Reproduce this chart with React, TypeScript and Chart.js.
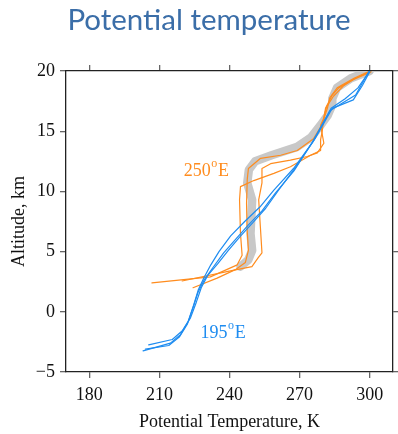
import { useEffect, useRef } from "react";
import { Chart, registerables } from "chart.js";

Chart.register(...registerables);

// ---- data (Potential temperature K, Altitude km) ----
const xTicks = [180, 210, 240, 270, 300];
const yTicks = [-5, 0, 5, 10, 15, 20];

const grayBand: [number, number][] = [
  [244.7, 3.75], [248, 4.3], [249.7, 5.1], [249, 6.5], [249.7, 9.3], [247.6, 10.7],
  [248.3, 11.8], [251, 12.5], [258, 13], [269, 13.7], [275, 14.5], [279, 15.5],
  [282, 16.3], [284, 17.2], [284, 17.7], [286, 18.6], [292, 19.4], [300, 20],
];

const orange1: [number, number][] = [
  [224.4, 2.0], [234.7, 2.8], [242.5, 3.5], [246.8, 4.1], [248.1, 5.1], [247.5, 7],
  [247.3, 9], [247.6, 11], [248.1, 11.9], [253.3, 12.75], [261.9, 13.0], [269, 13.4],
  [273.3, 14.0], [276.1, 14.4], [279.5, 15.5], [281.9, 16.9], [283, 17.8], [286.1, 18.6],
  [293.3, 19.4], [301.2, 20.1],
];

const orange2: [number, number][] = [
  [206.8, 2.4], [231.8, 2.9], [243.3, 3.9], [245.4, 4.7], [244.7, 6.5], [244.3, 9.3],
  [244.7, 10.4], [250.4, 10.9], [259, 11.5], [266.1, 12.05], [274.7, 13.0], [279, 13.4],
  [279, 14.3], [279.7, 15.0], [280.4, 16.1], [281.1, 16.9], [284, 18], [286.8, 18.6],
  [292.6, 19.25], [300.4, 19.9],
];

const orange3: [number, number][] = [
  [219.7, 2.56], [240.4, 3.4], [249.6, 3.75], [252.3, 4.5], [253.9, 4.9], [253.2, 7.1],
  [252.5, 9.3], [253.9, 10.7], [253.9, 11.9], [257.6, 12.3], [266.1, 12.6], [273.3, 12.9],
  [277.6, 13.2], [280.4, 14.0], [279, 15.5], [280.4, 16.1], [281.5, 17.0], [284.5, 17.9],
  [289, 18.8], [294, 19.4], [300.8, 20.0],
];

const blue1: [number, number][] = [
  [203, -3.25], [214.7, -2.6], [219, -1.9], [222.3, -0.8], [224.7, 0.6], [226.6, 1.8],
  [229, 2.8], [232, 3.9], [235.5, 5.0], [240.5, 6.3], [246.5, 7.5], [253, 8.7], [259, 10.1],
  [267.4, 11.9], [276, 14.2], [283.5, 16.9], [289.5, 17.7], [295, 18.6], [300, 20],
];

const blue2: [number, number][] = [
  [205.4, -2.75], [215.5, -2.3], [219.7, -1.6], [223.3, -0.5], [225.8, 0.8], [227.9, 2.0],
  [230.6, 3.0], [235, 4.0], [239.5, 5.1], [244.8, 6.3], [250, 7.4], [255.5, 8.6],
  [261, 10.1], [268.3, 12.0], [276.7, 14.4], [284, 16.9], [293, 17.6], [296.9, 18.8],
  [300.2, 20],
];

const blue3: [number, number][] = [
  [204, -3.1], [214, -2.8], [218.5, -2.1], [222, -1.0], [224.5, 0.4], [226.5, 1.6],
  [229.3, 2.7], [233, 3.7], [237.5, 4.9], [242.5, 6.0], [248, 7.2], [254, 8.4],
  [259.8, 9.9], [267.6, 11.7], [275.5, 14.1], [283, 16.7], [288, 17.3], [294, 18.0],
  [299.8, 20],
];

const ORANGE = "#ff8c1e";
const BLUE = "#1e8cf0";
const GRAY = "#c8c8c8";
const TITLE_COLOR = "#3b6ea8";
const SERIF = "'Liberation Serif', 'Times New Roman', serif";

const toPts = (a: [number, number][]) => a.map(([x, y]) => ({ x, y }));

function drawDegLabel(ctx: CanvasRenderingContext2D, num: string, px: number, py: number, color: string) {
  ctx.fillStyle = color;
  ctx.textAlign = "left";
  ctx.textBaseline = "alphabetic";
  ctx.font = `18px ${SERIF}`;
  ctx.fillText(num, px, py);
  const w = ctx.measureText(num).width;
  ctx.font = `12px ${SERIF}`;
  ctx.fillText("o", px + w + 0.5, py - 9.3);
  const ow = ctx.measureText("o").width;
  ctx.font = `18px ${SERIF}`;
  ctx.fillText("E", px + w + ow + 1.2, py);
}

const annotPlugin = {
  id: "annot",
  afterDraw(chart: any) {
    const ctx: CanvasRenderingContext2D = chart.ctx;
    const xs = chart.scales.x;
    const ys = chart.scales.y;
    ctx.save();
    ctx.fillStyle = TITLE_COLOR;
    ctx.font = "29.5px Lato";
    ctx.textAlign = "center";
    ctx.textBaseline = "alphabetic";
    ctx.fillText("Potential temperature", 209, 30);
    drawDegLabel(ctx, "250", xs.getPixelForValue(220.4), ys.getPixelForValue(11.28), ORANGE);
    drawDegLabel(ctx, "195", xs.getPixelForValue(227.6), ys.getPixelForValue(-2.2), BLUE);
    ctx.restore();
  },
};

const PLOT_LEFT = 66;
const PLOT_RIGHT_GAP = 5;
const PLOT_TOP = 71;
const PLOT_BOTTOM_GAP = 62;

export default function App() {
  const ref = useRef<HTMLCanvasElement | null>(null);
  useEffect(() => {
    document.body.style.margin = "0";
    const canvas = ref.current;
    if (!canvas) return;
    const line = (data: [number, number][], color: string, width: number, order: number) => ({
      data: toPts(data),
      showLine: true,
      borderColor: color,
      backgroundColor: color,
      borderWidth: width,
      pointRadius: 0,
      tension: 0,
      borderJoinStyle: "round" as const,
      borderCapStyle: "round" as const,
      order,
      xAxisID: "x",
      yAxisID: "y",
    });
    const gridOpts = { drawOnChartArea: false, drawTicks: true, tickLength: 6, color: "#666", lineWidth: 1.3 };
    const borderOpts = { display: true, color: "#222", width: 1.3 };
    const setTicks = (vals: number[]) => (scale: any) => {
      scale.ticks = vals.map((v) => ({ value: v }));
    };
    const chart = new Chart(canvas, {
      type: "scatter",
      data: {
        datasets: [
          line(blue1, BLUE, 1.2, 1),
          line(blue2, BLUE, 1.2, 1),
          line(blue3, BLUE, 1.2, 1),
          line(orange1, ORANGE, 1.2, 2),
          line(orange2, ORANGE, 1.2, 2),
          line(orange3, ORANGE, 1.2, 2),
          line(grayBand, GRAY, 8.5, 3),
        ],
      },
      options: {
        animation: false,
        responsive: false,
        devicePixelRatio: 1,
        layout: { padding: 0 },
        plugins: { legend: { display: false }, tooltip: { enabled: false }, title: { display: false } },
        scales: {
          x: {
            type: "linear",
            position: "bottom",
            min: 170,
            max: 310,
            afterBuildTicks: setTicks(xTicks),
            afterFit: (s: any) => { s.height = PLOT_BOTTOM_GAP; },
            grid: gridOpts,
            border: borderOpts,
            ticks: { color: "#111", font: { family: SERIF, size: 18 }, padding: 6, maxRotation: 0 },
            title: { display: true, text: "Potential Temperature, K", color: "#111", font: { family: SERIF, size: 18 }, padding: { top: 0, bottom: 1 } },
          },
          x2: {
            type: "linear",
            position: "top",
            min: 170,
            max: 310,
            afterBuildTicks: setTicks(xTicks),
            afterFit: (s: any) => { s.height = PLOT_TOP; },
            grid: gridOpts,
            border: borderOpts,
            ticks: { display: false },
          },
          y: {
            type: "linear",
            position: "left",
            min: -5,
            max: 20,
            afterBuildTicks: setTicks(yTicks),
            afterFit: (s: any) => { s.width = PLOT_LEFT; },
            grid: gridOpts,
            border: borderOpts,
            ticks: {
              color: "#111",
              font: { family: SERIF, size: 18 },
              padding: 5,
              callback: (v: any) => String(v).replace("-", "\u2212"),
            },
            title: { display: true, text: "Altitude, km", color: "#111", font: { family: SERIF, size: 18 }, padding: { top: 8, bottom: 0 } },
          },
          y2: {
            type: "linear",
            position: "right",
            min: -5,
            max: 20,
            afterBuildTicks: setTicks(yTicks),
            afterFit: (s: any) => { s.width = PLOT_RIGHT_GAP; },
            grid: gridOpts,
            border: borderOpts,
            ticks: { display: false },
          },
        },
      },
      plugins: [annotPlugin],
    });
    return () => chart.destroy();
  }, []);
  return <canvas ref={ref} width={398} height={434} style={{ display: "block" }} />;
}
